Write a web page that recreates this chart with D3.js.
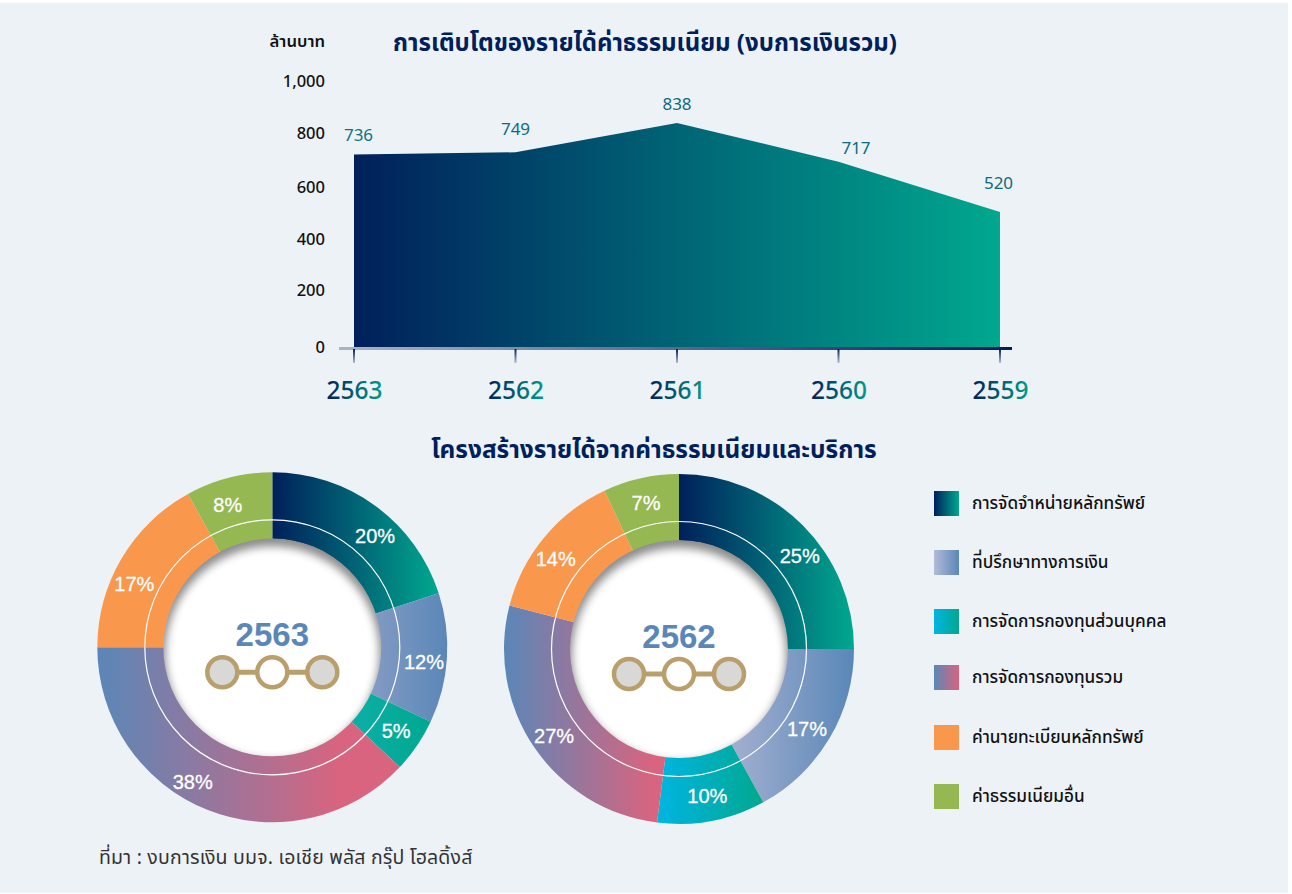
<!DOCTYPE html>
<html><head><meta charset="utf-8">
<script src="https://cdn.jsdelivr.net/npm/d3@7"></script>
<style>html,body{margin:0;padding:0;background:#fff}svg{display:block}
text{font-family:"Noto Sans Thai","Noto Sans","Noto Sans CJK SC",sans-serif}</style>
</head><body><div id="chart"></div>
<script>
const years=["2563","2562","2561","2560","2559"];
const labelValues=[736,749,838,717,520];
const drawnValues=[725,733,843,698,509];
const yTicks=[0,200,400,600,800,1000];
const categories=["การจัดจำหน่ายหลักทรัพย์","ที่ปรึกษาทางการเงิน","การจัดการกองทุนส่วนบุคคล","การจัดการกองทุนรวม","ค่านายทะเบียนหลักทรัพย์","ค่าธรรมเนียมอื่น"];
const share2563=[20,12,5,38,17,8];
const share2562=[25,17,10,27,14,7];
const stops=[["#00205b","#00a88f"],["#b3bbd8","#5a87b8"],["#00b5e2","#00a88f"],["#5a87b8","#d8647f"],["#f9974c","#f9974c"],["#95b852","#95b852"]];
const stops2563=[["#00205b","#00a88f"],["#859cc4","#5a87b8"],["#0cafa8","#00a88f"],["#5a87b8","#d8647f",0.8],["#f9974c","#f9974c"],["#95b852","#95b852"]];
const stops2562=[["#00205b","#00a88f"],["#a3b0d0","#5a87b8"],["#00b5e2","#00a88f"],["#5a87b8","#d8647f",0.92],["#f9974c","#f9974c"],["#95b852","#95b852"]];
const title1="การเติบโตของรายได้ค่าธรรมเนียม (งบการเงินรวม)";
const title2="โครงสร้างรายได้จากค่าธรรมเนียมและบริการ";
const unit="ล้านบาท";
const source="ที่มา : งบการเงิน บมจ. เอเชีย พลัส กรุ๊ป โฮลดิ้งส์";

const svg=d3.select("#chart").append("svg").attr("width",1292).attr("height",894);
const defs=svg.append("defs");
function grad(id,a,b,x2=1,y2=0){const g=defs.append("linearGradient").attr("id",id).attr("x1",0).attr("y1",0).attr("x2",x2).attr("y2",y2);
 g.append("stop").attr("offset",0).attr("stop-color",a);g.append("stop").attr("offset",1).attr("stop-color",b);}
grad("areaG","#00205b","#00a88f");
grad("axisG","#aab4c6","#00205b");
defs.append("linearGradient").attr("id","tickG").attr("gradientUnits","userSpaceOnUse").attr("x1",0).attr("y1",349).attr("x2",0).attr("y2",363)
 .selectAll("stop").data([["0","#00205b"],["1","#b4bccb"]]).join("stop").attr("offset",d=>d[0]).attr("stop-color",d=>d[1]);
grad("yearG","#00205b","#00a88f",1.1,0);
stops.forEach((s,i)=>grad("cat"+i,s[0],s[1]));
stops2563.forEach((s,i)=>grad("d0c"+i,s[0],s[1],s[2]||1));
stops2562.forEach((s,i)=>grad("d1c"+i,s[0],s[1],s[2]||1));
const blur=defs.append("filter").attr("id","soft").attr("x","-20%").attr("y","-20%").attr("width","140%").attr("height","140%");
blur.append("feGaussianBlur").attr("stdDeviation",4);

svg.append("rect").attr("x",0).attr("y",3).attr("width",1288).attr("height",890).attr("fill","#edf2f7");

// area chart
const x=d3.scalePoint().domain(years).range([354,1000]);
const y=d3.scaleLinear().domain([0,1000]).range([348,81]);
const area=d3.area().x((d,i)=>x(years[i])).y0(y(0)).y1(d=>y(d));
svg.append("path").datum(drawnValues).attr("d",area).attr("fill","url(#areaG)");

const yNudge=[-1,-4,-2,-1,-1,0];
const yAxis=svg.append("g").attr("transform","translate(325,0)")
 .call(d3.axisLeft(y).tickValues(yTicks).tickFormat(d3.format(",")).tickSize(0).tickPadding(0));
yAxis.select(".domain").remove();
yAxis.selectAll("text").attr("font-size",16.5).attr("font-weight",500).attr("fill","#111").attr("y",(d,i)=>yNudge[i]);

const xAxis=svg.append("g").attr("transform","translate(0,348)")
 .call(d3.axisBottom(x).tickSize(0).tickPadding(0));
xAxis.select(".domain").remove();
xAxis.selectAll("text").attr("y",51).attr("dy",0).attr("font-size",24.5).attr("font-weight",500).attr("fill","url(#yearG)");
svg.append("rect").attr("x",339).attr("y",347).attr("width",673).attr("height",3).attr("fill","url(#axisG)");
svg.selectAll(".xt").data(years).join("rect").attr("class","xt").attr("x",d=>x(d)-1).attr("y",349).attr("width",2).attr("height",14).attr("fill","url(#tickG)");

const labelDx=[4.5,0,0,17.5,-1.5],labelY=[141,135,110,154,189];
svg.selectAll(".lab").data(labelValues).join("text").attr("class","lab")
 .attr("x",(d,i)=>x(years[i])+labelDx[i]).attr("y",(d,i)=>labelY[i]).attr("text-anchor","middle")
 .attr("font-size",17).attr("fill",(d,i)=>["#0b7384","#0b6d80","#0b6a7e","#0b6a7e","#0b6a7e"][i]).text(d=>d);

svg.append("text").attr("x",325).attr("y",47).attr("text-anchor","end").attr("font-size",16.7).attr("font-weight",600).attr("fill","#111").text(unit);
svg.append("text").attr("x",645).attr("y",50.5).attr("text-anchor","middle").attr("font-size",24).attr("font-weight",700).attr("fill","#00205b").text(title1);
svg.append("text").attr("x",654).attr("y",457.5).attr("text-anchor","middle").attr("font-size",24.4).attr("font-weight",700).attr("fill","#00205b").text(title2);

// donuts
const labelNudge=[[[14,11],[1,5],[-1,-1],[-24,-6],[-8,14],[-7,4]],[[14,14],[-2,3],[0,-1],[0,2],[-7,6],[0,1]]];
function donut(cx,cy,vals,year,idx){
 const g=svg.append("g").attr("transform",`translate(${cx},${cy})`);
 const pie=d3.pie().sort(null)(vals);
 const arc=d3.arc().innerRadius(105).outerRadius(175);
 g.selectAll("path.s").data(pie).join("path").attr("class","s").attr("d",arc).attr("fill",(d,i)=>`url(#d${idx}c${i})`);
 g.append("circle").attr("r",127.5).attr("fill","none").attr("stroke","#fff").attr("stroke-width",1.2);
 const clipId="clip"+idx;
 defs.append("clipPath").attr("id",clipId).append("circle").attr("r",109);
 const c=g.append("g").attr("clip-path",`url(#${clipId})`);
 c.append("circle").attr("r",109).attr("fill","#8c8c8c");
 c.append("circle").attr("r",107).attr("cy",6).attr("fill","#fff").attr("filter","url(#soft)");
 const lab=d3.arc().innerRadius(151).outerRadius(151);
 const off=labelNudge[idx];
 g.selectAll("text.p").data(pie).join("text").attr("class","p")
  .attr("x",(d,i)=>lab.centroid(d)[0]+off[i][0]).attr("y",(d,i)=>lab.centroid(d)[1]+off[i][1]+7)
  .attr("text-anchor","middle").attr("font-size",20).attr("fill","#fff").attr("stroke","#fff").attr("stroke-width",0.3)
  .style("font-family","Liberation Sans").text(d=>d.value+"%");
 g.append("text").attr("y",-1).attr("text-anchor","middle").attr("font-size",33).attr("font-weight",700)
  .style("font-family","Liberation Sans").attr("fill","#5a87b8").text(year);
 const gold="#b99f6b";
 g.append("line").attr("x1",-50).attr("x2",50).attr("y1",25).attr("y2",25).attr("stroke",gold).attr("stroke-width",5);
 g.selectAll("circle.k").data([-50,0,50]).join("circle").attr("class","k").attr("cx",d=>d).attr("cy",25).attr("r",15)
  .attr("fill",d=>d===0?"#fff":"#d8d8d6").attr("stroke",gold).attr("stroke-width",4.5);
}
donut(272.3,647.3,share2563,"2563",0);
donut(679,649,share2562,"2562",1);

// legend
const legY=[491,550,609,665,725,784];
svg.selectAll(".lr").data(categories).join("rect").attr("class","lr").attr("x",934).attr("y",(d,i)=>legY[i]).attr("width",25).attr("height",25).attr("fill",(d,i)=>`url(#cat${i})`);
svg.selectAll(".lt").data(categories).join("text").attr("class","lt").attr("x",972).attr("y",(d,i)=>legY[i]+17.5).attr("font-size",17.2).attr("font-weight",500).attr("fill","#111").text(d=>d);

svg.append("text").attr("x",99).attr("y",864).attr("font-size",19.5).attr("letter-spacing",0.2).attr("fill","#333").text(source);
</script></body></html>
